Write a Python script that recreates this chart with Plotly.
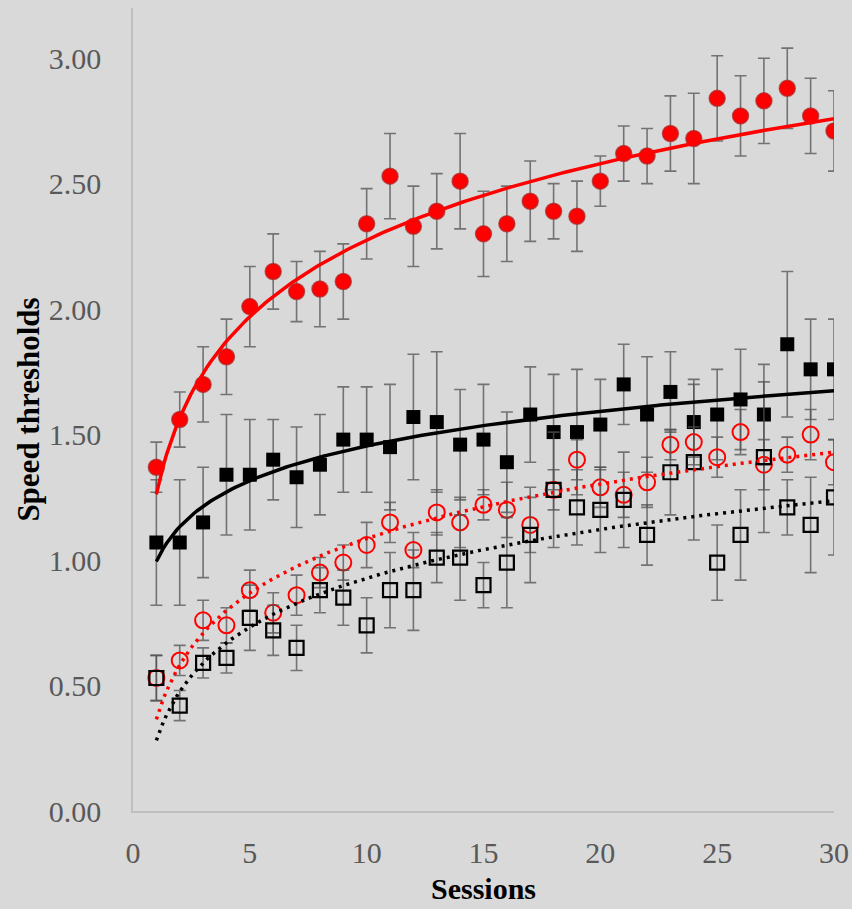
import numpy as np
import plotly.graph_objects as go

# Sessions 1..30
sessions = list(range(1, 31))

# Group means and standard errors per session
red_filled = [1.37, 1.56, 1.70, 1.81, 2.01, 2.15, 2.07, 2.08, 2.11, 2.34,
              2.53, 2.33, 2.39, 2.51, 2.30, 2.34, 2.43, 2.39, 2.37, 2.51,
              2.62, 2.61, 2.70, 2.68, 2.84, 2.77, 2.83, 2.88, 2.77, 2.71]
red_filled_err = [0.10, 0.11, 0.15, 0.15, 0.16, 0.15, 0.12, 0.15, 0.15, 0.14,
                  0.17, 0.16, 0.15, 0.19, 0.17, 0.15, 0.16, 0.11, 0.14, 0.10,
                  0.11, 0.11, 0.15, 0.18, 0.17, 0.16, 0.17, 0.16, 0.15, 0.16]

black_filled = [1.07, 1.07, 1.15, 1.34, 1.34, 1.40, 1.33, 1.38, 1.48, 1.48,
                1.45, 1.57, 1.55, 1.46, 1.48, 1.39, 1.58, 1.51, 1.51, 1.54,
                1.70, 1.58, 1.67, 1.55, 1.58, 1.64, 1.58, 1.86, 1.76, 1.76]
black_filled_err = [0.25, 0.25, 0.22, 0.24, 0.22, 0.16, 0.20, 0.20, 0.21, 0.21,
                    0.25, 0.25, 0.28, 0.22, 0.22, 0.20, 0.19, 0.23, 0.25, 0.18,
                    0.16, 0.23, 0.16, 0.17, 0.18, 0.20, 0.20, 0.29, 0.20, 0.20]

red_open = [0.53, 0.60, 0.76, 0.74, 0.88, 0.79, 0.86, 0.95, 0.99, 1.06,
            1.15, 1.04, 1.19, 1.15, 1.22, 1.20, 1.14, 1.28, 1.40, 1.29,
            1.26, 1.31, 1.46, 1.47, 1.41, 1.51, 1.38, 1.42, 1.50, 1.39]
red_open_err = [0.09, 0.06, 0.08, 0.07, 0.08, 0.08, 0.08, 0.06, 0.07, 0.09,
                0.08, 0.07, 0.09, 0.10, 0.06, 0.11, 0.11, 0.08, 0.08, 0.08,
                0.09, 0.10, 0.06, 0.06, 0.08, 0.09, 0.10, 0.07, 0.10, 0.09]

black_open = [0.53, 0.42, 0.59, 0.61, 0.77, 0.72, 0.65, 0.88, 0.85, 0.74,
              0.88, 0.88, 1.01, 1.01, 0.90, 0.99, 1.10, 1.28, 1.21, 1.20,
              1.24, 1.10, 1.35, 1.39, 0.99, 1.10, 1.41, 1.21, 1.14, 1.25]
black_open_err = [0.09, 0.06, 0.06, 0.06, 0.13, 0.10, 0.09, 0.09, 0.11, 0.11,
                  0.15, 0.16, 0.10, 0.17, 0.09, 0.18, 0.19, 0.23, 0.15, 0.17,
                  0.19, 0.12, 0.17, 0.31, 0.15, 0.18, 0.30, 0.11, 0.19, 0.23]

x_ticks = [0, 5, 10, 15, 20, 25, 30]
y_ticks = [0.0, 0.5, 1.0, 1.5, 2.0, 2.5, 3.0]

BG = "#d9d9d9"
ERR_COLOR = "rgba(80,80,80,0.75)"
SERIF = "Liberation Serif, Times New Roman, serif"

x = np.array(sessions, dtype=float)
x_fit = np.linspace(1, 30, 200)


def log_trend(values):
    """Least-squares fit y = a + b*ln(x), evaluated on x_fit."""
    b, a = np.polyfit(np.log(x), np.array(values), 1)
    return a + b * np.log(x_fit)


def err(vals):
    return dict(type="data", array=vals, visible=True, color=ERR_COLOR,
                thickness=1.6, width=6)


fig = go.Figure()

# Data points with error bars
fig.add_trace(go.Scatter(
    x=sessions, y=red_filled, mode="markers", error_y=err(red_filled_err),
    marker=dict(symbol="circle", size=16, color="#ff0000",
                line=dict(color="rgba(170,40,40,0.7)", width=1.5)),
    showlegend=False))
fig.add_trace(go.Scatter(
    x=sessions, y=black_filled, mode="markers", error_y=err(black_filled_err),
    marker=dict(symbol="square", size=14, color="#000000",
                line=dict(color="#000000", width=0)),
    showlegend=False))
fig.add_trace(go.Scatter(
    x=sessions, y=red_open, mode="markers", error_y=err(red_open_err),
    marker=dict(symbol="circle-open", size=16, color="#ff0000",
                line=dict(color="#ff0000", width=2)),
    showlegend=False))
fig.add_trace(go.Scatter(
    x=sessions, y=black_open, mode="markers", error_y=err(black_open_err),
    marker=dict(symbol="square-open", size=14, color="#000000",
                line=dict(color="#000000", width=2.2)),
    showlegend=False))

# Logarithmic trend lines
fig.add_trace(go.Scatter(x=x_fit, y=log_trend(red_filled), mode="lines",
                         line=dict(color="#ff0000", width=3.5),
                         hoverinfo="skip", showlegend=False))
fig.add_trace(go.Scatter(x=x_fit, y=log_trend(black_filled), mode="lines",
                         line=dict(color="#000000", width=3.5),
                         hoverinfo="skip", showlegend=False))
fig.add_trace(go.Scatter(x=x_fit, y=log_trend(red_open), mode="lines",
                         line=dict(color="#ff0000", width=3.5, dash="3px,5px"),
                         hoverinfo="skip", showlegend=False))
fig.add_trace(go.Scatter(x=x_fit, y=log_trend(black_open), mode="lines",
                         line=dict(color="#000000", width=3.5, dash="3px,5px"),
                         hoverinfo="skip", showlegend=False))

fig.update_layout(
    width=852, height=909,
    paper_bgcolor=BG, plot_bgcolor=BG,
    margin=dict(l=133, r=18, t=8, b=98, autoexpand=False),
    font=dict(family=SERIF, color="#595959"),
    xaxis=dict(
        range=[0, 30], tickvals=x_ticks, ticktext=[str(v) for v in x_ticks],
        showgrid=False, zeroline=False, showline=True, automargin=False,
        linecolor="#bfbfbf", linewidth=1.5, ticks="",
        tickfont=dict(family=SERIF, size=30, color="#595959"),
        ticklabelstandoff=14,
        title=dict(text="<b>Sessions</b>", standoff=10,
                   font=dict(family=SERIF, size=30, color="#000000")),
    ),
    yaxis=dict(
        range=[0, 3.2], tickvals=y_ticks,
        ticktext=[f"{v:.2f}" for v in y_ticks],
        showgrid=False, zeroline=False, showline=True, automargin=False,
        linecolor="#bfbfbf", linewidth=1.5, ticks="",
        tickfont=dict(family=SERIF, size=30, color="#595959"),
        ticklabelstandoff=24,
        title=dict(text="<b>Speed thresholds</b>", standoff=0,
                   font=dict(family=SERIF, size=31, color="#000000")),
    ),
)

fig.write_html("out.html")
